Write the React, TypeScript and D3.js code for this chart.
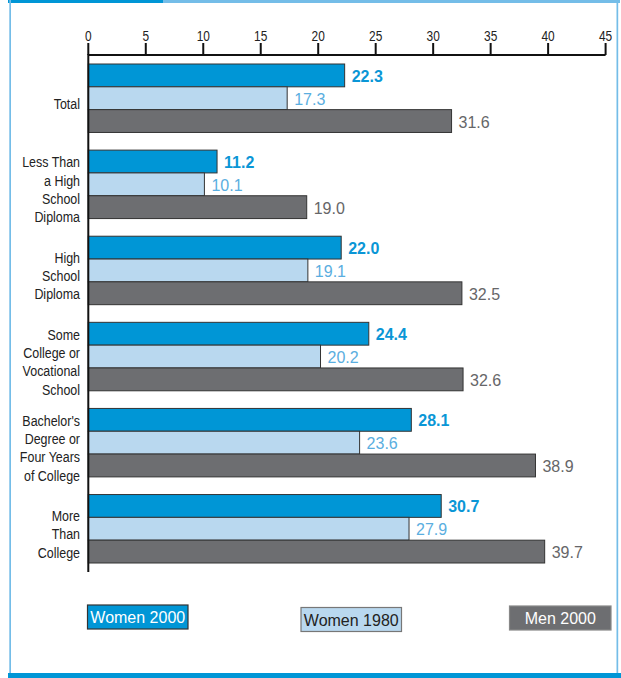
import React from "react";
import * as d3 from "d3";

const categories: string[][] = [
  ["Total"],
  ["Less Than", "a High", "School", "Diploma"],
  ["High", "School", "Diploma"],
  ["Some", "College or", "Vocational", "School"],
  ["Bachelor's", "Degree or", "Four Years", "of College"],
  ["More", "Than", "College"],
];
const women2000 = [22.3, 11.2, 22.0, 24.4, 28.1, 30.7];
const women1980 = [17.3, 10.1, 19.1, 20.2, 23.6, 27.9];
const men2000 = [31.6, 19.0, 32.5, 32.6, 38.9, 39.7];
const seriesNames = ["Women 2000", "Women 1980", "Men 2000"];
const xTicks = [0, 5, 10, 15, 20, 25, 30, 35, 40, 45];

const fills = ["#0096d6", "#b9d8ef", "#6d6e71"];
const labelColors = ["#0a96d6", "#5aaee0", "#666668"];
const legendText = ["#ffffff", "#222222", "#ffffff"];
const legendStroke = ["#333333", "#777777", "#888888"];

const W = 621;
const H = 678;
const sans = "'Liberation Sans', Arial, Helvetica, sans-serif";

export default function App() {
  const x = d3.scaleLinear().domain([0, 45]).range([88.3, 605.6]);
  const idx = categories.map((_, i) => String(i));
  const y0 = d3.scaleBand().domain(idx).range([64, 563]).paddingInner(0.205).paddingOuter(0);
  const y1 = d3.scaleBand().domain(["0", "1", "2"]).range([0, y0.bandwidth()]);
  const series = [women2000, women1980, men2000];
  const axisY = 55;

  const legend = [
    { x: 87.5, y: 605, w: 100.5, h: 24 },
    { x: 301, y: 607.5, w: 100.5, h: 24 },
    { x: 509.5, y: 606, w: 101.5, h: 24 },
  ];

  return (
    <svg width={W} height={H} style={{ position: "absolute", left: 0, top: 0 }}>
      <rect x={0} y={0} width={W} height={H} fill="#ffffff" />
      {/* frame */}
      <rect x={8} y={0} width={155} height={3} fill="#0096d6" />
      <rect x={163} y={0} width={457} height={3} fill="#74bde8" />
      <rect x={9.3} y={0} width={1.7} height={674} fill="#74bde8" />
      <rect x={616.5} y={0} width={1.7} height={674} fill="#74bde8" />
      <rect x={8} y={673} width={613} height={5} fill="#0096d6" />

      {/* bars */}
      {categories.map((cat, i) => (
        <g key={i} transform={`translate(0,${y0(String(i))})`}>
          {series.map((s, j) => (
            <g key={j}>
              <rect
                x={x(0)}
                y={y1(String(j))!}
                width={x(s[i]) - x(0)}
                height={y1.bandwidth()}
                fill={fills[j]}
                stroke="#333333"
                strokeWidth={1}
              />
              <text
                x={x(s[i]) + 7}
                y={y1(String(j))! + y1.bandwidth() / 2 + 6.5}
                fill={labelColors[j]}
                fontFamily={sans}
                fontSize={16}
                fontWeight={j === 0 ? "bold" : "normal"}
              >
                {s[i].toFixed(1)}
              </text>
            </g>
          ))}
          {cat.map((line, k) => (
            <text
              key={k}
              transform={`translate(80,${y0.bandwidth() / 2 + (k - (cat.length - 1) / 2) * 18.3 + 10.5}) scale(0.83,1)`}
              textAnchor="end"
              fontFamily={sans}
              fontSize={15}
              fill="#222222"
            >
              {line}
            </text>
          ))}
        </g>
      ))}

      {/* axes */}
      <line x1={x(0)} x2={x(45)} y1={axisY} y2={axisY} stroke="#111" strokeWidth={2} />
      <line x1={x(0)} x2={x(0)} y1={axisY - 1} y2={572} stroke="#111" strokeWidth={2} />
      {xTicks.map((t) => (
        <g key={t}>
          <line x1={x(t)} x2={x(t)} y1={43} y2={axisY} stroke="#111" strokeWidth={2} />
          <text
            transform={`translate(${x(t)},41) scale(0.85,1)`}
            textAnchor="middle"
            fontFamily={sans}
            fontSize={14}
            fill="#222"
          >
            {t}
          </text>
        </g>
      ))}

      {/* legend */}
      {legend.map((l, j) => (
        <g key={j}>
          <rect x={l.x} y={l.y} width={l.w} height={l.h} fill={fills[j]} stroke={legendStroke[j]} strokeWidth={1.2} />
          <text
            x={l.x + l.w / 2}
            y={l.y + l.h / 2 + 6}
            textAnchor="middle"
            fontFamily={sans}
            fontSize={16}
            fill={legendText[j]}
          >
            {seriesNames[j]}
          </text>
        </g>
      ))}
    </svg>
  );
}
